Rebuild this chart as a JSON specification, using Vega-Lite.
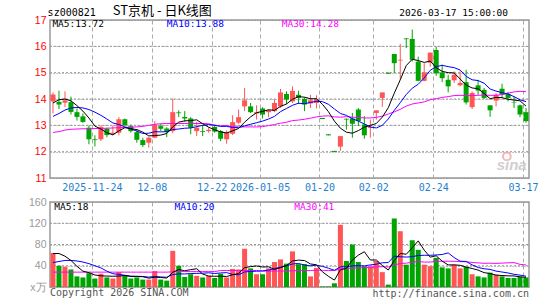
{
"$schema": "https://vega.github.io/schema/vega-lite/v6.json",
"background": "#ffffff",
"padding": {"left": 27, "top": 3, "right": 5, "bottom": 0},
"spacing": 24,
"bounds": "flush",
"config": {
  "view": {"stroke": "#999999", "strokeWidth": 1.5},
  "axis": {"domain": false, "ticks": false, "labelOverlap": false, "labelFont": "Liberation Sans", "labelFontSize": 10.5, "gridColor": "#aaaaaa", "gridWidth": 1, "gridOpacity": 1}
},
"datasets": {"k": [
{"i":0,"o":13.91,"h":14.25,"l":13.45,"c":14.17,"m5":13.85,"m10":13.34,"m30":12.73,"v":64,"vm5":63,"vm10":46,"vm30":28},
{"i":1,"o":13.89,"h":14.32,"l":13.62,"c":13.79,"m5":13.97,"m10":13.45,"m30":12.76,"v":40,"vm5":63,"vm10":48,"vm30":28},
{"i":2,"o":13.86,"h":14.29,"l":13.69,"c":13.95,"m5":14.0,"m10":13.58,"m30":12.82,"v":38,"vm5":58,"vm10":50,"vm30":28},
{"i":3,"o":13.88,"h":14.09,"l":13.41,"c":13.51,"m5":13.93,"m10":13.66,"m30":12.85,"v":33,"vm5":50,"vm10":50,"vm30":28},
{"i":4,"o":13.5,"h":13.64,"l":13.18,"c":13.32,"m5":13.75,"m10":13.68,"m30":12.86,"v":20,"vm5":39,"vm10":49,"vm30":28},
{"i":5,"o":13.34,"h":13.45,"l":13.09,"c":13.13,"m5":13.54,"m10":13.66,"m30":12.87,"v":18,"vm5":29.8,"vm10":47,"vm30":28},
{"i":6,"o":12.91,"h":13.0,"l":12.28,"c":12.47,"m5":13.28,"m10":13.6,"m30":12.87,"v":26,"vm5":27,"vm10":44,"vm30":28},
{"i":7,"o":12.47,"h":12.62,"l":12.2,"c":12.44,"m5":12.97,"m10":13.5,"m30":12.88,"v":16,"vm5":22.6,"vm10":40,"vm30":28},
{"i":8,"o":12.47,"h":13.0,"l":12.4,"c":12.94,"m5":12.86,"m10":13.38,"m30":12.88,"v":25,"vm5":21,"vm10":36,"vm30":28},
{"i":9,"o":12.87,"h":12.91,"l":12.55,"c":12.63,"m5":12.72,"m10":13.24,"m30":12.89,"v":18,"vm5":20.6,"vm10":29.8,"vm30":28},
{"i":10,"o":12.66,"h":13.0,"l":12.62,"c":12.72,"m5":12.64,"m10":13.09,"m30":12.9,"v":16,"vm5":20.2,"vm10":25,"vm30":28},
{"i":11,"o":12.72,"h":13.31,"l":12.62,"c":13.23,"m5":12.79,"m10":13.03,"m30":12.91,"v":28,"vm5":20.6,"vm10":23.8,"vm30":28},
{"i":12,"o":13.23,"h":13.26,"l":12.97,"c":13.01,"m5":12.91,"m10":12.94,"m30":12.92,"v":21,"vm5":21.6,"vm10":22.1,"vm30":28},
{"i":13,"o":12.97,"h":13.03,"l":12.72,"c":12.78,"m5":12.87,"m10":12.87,"m30":12.93,"v":16,"vm5":19.8,"vm10":20.4,"vm30":28},
{"i":14,"o":12.74,"h":12.85,"l":12.34,"c":12.45,"m5":12.84,"m10":12.78,"m30":12.94,"v":18,"vm5":19.8,"vm10":20.2,"vm30":28},
{"i":15,"o":12.44,"h":12.53,"l":12.18,"c":12.25,"m5":12.74,"m10":12.69,"m30":12.96,"v":14,"vm5":19.4,"vm10":19.8,"vm30":28},
{"i":16,"o":12.34,"h":12.57,"l":12.15,"c":12.53,"m5":12.6,"m10":12.7,"m30":13.0,"v":14,"vm5":16.6,"vm10":18.6,"vm30":28},
{"i":17,"o":12.53,"h":13.16,"l":12.51,"c":13.03,"m5":12.61,"m10":12.76,"m30":13.04,"v":30,"vm5":18.4,"vm10":20,"vm30":28},
{"i":18,"o":12.97,"h":13.06,"l":12.78,"c":12.87,"m5":12.63,"m10":12.75,"m30":13.06,"v":14,"vm5":18,"vm10":18.9,"vm30":28},
{"i":19,"o":12.88,"h":12.93,"l":12.55,"c":12.75,"m5":12.69,"m10":12.76,"m30":13.07,"v":12,"vm5":16.8,"vm10":18.3,"vm30":28},
{"i":20,"o":12.78,"h":14.02,"l":12.7,"c":13.5,"m5":12.94,"m10":12.84,"m30":13.07,"v":68,"vm5":27.6,"vm10":23.5,"vm30":28.5},
{"i":21,"o":13.49,"h":13.57,"l":13.32,"c":13.46,"m5":13.12,"m10":12.86,"m30":13.07,"v":40,"vm5":32.8,"vm10":24.7,"vm30":29},
{"i":22,"o":13.32,"h":13.54,"l":13.13,"c":13.26,"m5":13.17,"m10":12.89,"m30":13.07,"v":19,"vm5":30.6,"vm10":24.5,"vm30":29},
{"i":23,"o":13.26,"h":13.31,"l":12.66,"c":12.91,"m5":13.18,"m10":12.9,"m30":13.07,"v":24,"vm5":32.6,"vm10":25.3,"vm30":29},
{"i":24,"o":12.78,"h":13.13,"l":12.59,"c":12.91,"m5":13.21,"m10":12.95,"m30":13.07,"v":21,"vm5":34.4,"vm10":25.6,"vm30":29},
{"i":25,"o":12.78,"h":13.0,"l":12.59,"c":12.75,"m5":13.06,"m10":13.0,"m30":13.07,"v":18,"vm5":24.4,"vm10":26,"vm30":29},
{"i":26,"o":12.78,"h":12.93,"l":12.72,"c":12.83,"m5":12.93,"m10":13.03,"m30":13.06,"v":21,"vm5":20.6,"vm10":26.7,"vm30":29},
{"i":27,"o":12.94,"h":12.99,"l":12.72,"c":12.76,"m5":12.83,"m10":13.0,"m30":13.01,"v":17,"vm5":20.2,"vm10":25.4,"vm30":29},
{"i":28,"o":12.78,"h":12.82,"l":12.4,"c":12.49,"m5":12.75,"m10":12.96,"m30":12.98,"v":25,"vm5":20.4,"vm10":26.5,"vm30":31},
{"i":29,"o":12.47,"h":12.81,"l":12.3,"c":12.74,"m5":12.71,"m10":12.96,"m30":12.99,"v":18,"vm5":19.8,"vm10":27.1,"vm30":31},
{"i":30,"o":12.68,"h":13.38,"l":12.63,"c":13.12,"m5":12.79,"m10":12.92,"m30":12.95,"v":34,"vm5":23,"vm10":23.7,"vm30":31},
{"i":31,"o":13.1,"h":13.6,"l":13.06,"c":13.31,"m5":12.88,"m10":12.91,"m30":12.94,"v":33,"vm5":25.4,"vm10":23,"vm30":31},
{"i":32,"o":13.72,"h":14.42,"l":13.54,"c":13.95,"m5":13.12,"m10":12.98,"m30":12.94,"v":72,"vm5":36.4,"vm10":28.3,"vm30":31},
{"i":33,"o":13.72,"h":13.85,"l":13.47,"c":13.5,"m5":13.32,"m10":13.04,"m30":12.94,"v":35,"vm5":38.4,"vm10":29.4,"vm30":31},
{"i":34,"o":13.45,"h":13.76,"l":13.22,"c":13.5,"m5":13.48,"m10":13.1,"m30":12.94,"v":24,"vm5":39.6,"vm10":29.7,"vm30":31},
{"i":35,"o":13.64,"h":13.69,"l":13.26,"c":13.41,"m5":13.53,"m10":13.16,"m30":12.95,"v":24,"vm5":37.6,"vm10":30.3,"vm30":30},
{"i":36,"o":13.5,"h":13.6,"l":13.31,"c":13.57,"m5":13.59,"m10":13.24,"m30":12.99,"v":35,"vm5":38,"vm10":31.7,"vm30":30},
{"i":37,"o":13.54,"h":13.98,"l":13.5,"c":13.85,"m5":13.57,"m10":13.34,"m30":13.03,"v":47,"vm5":33,"vm10":34.7,"vm30":30},
{"i":38,"o":13.72,"h":14.38,"l":13.66,"c":14.25,"m5":13.72,"m10":13.52,"m30":13.08,"v":52,"vm5":36.4,"vm10":37.4,"vm30":30},
{"i":39,"o":14.19,"h":14.29,"l":13.81,"c":13.98,"m5":13.81,"m10":13.64,"m30":13.12,"v":44,"vm5":40.4,"vm10":40,"vm30":30},
{"i":40,"o":13.91,"h":14.48,"l":13.85,"c":14.31,"m5":13.99,"m10":13.76,"m30":13.18,"v":67,"vm5":49,"vm10":43.3,"vm30":30.5},
{"i":41,"o":14.16,"h":14.31,"l":13.81,"c":14.04,"m5":14.09,"m10":13.84,"m30":13.2,"v":43,"vm5":50.6,"vm10":44.3,"vm30":31},
{"i":42,"o":14.0,"h":14.06,"l":13.54,"c":13.79,"m5":14.07,"m10":13.82,"m30":13.23,"v":43,"vm5":49.8,"vm10":41.4,"vm30":31},
{"i":43,"o":13.83,"h":14.16,"l":13.66,"c":13.95,"m5":14.01,"m10":13.87,"m30":13.27,"v":20,"vm5":43.4,"vm10":39.9,"vm30":31},
{"i":44,"o":13.85,"h":14.14,"l":13.64,"c":13.98,"m5":14.01,"m10":13.91,"m30":13.32,"v":36,"vm5":41.8,"vm10":41.1,"vm30":31.5},
{"i":45,"o":13.28,"h":13.28,"l":13.24,"c":13.24,"m5":13.8,"m10":13.9,"m30":13.35,"v":1,"vm5":28.6,"vm10":38.8,"vm30":31.5},
{"i":46,"o":12.66,"h":12.66,"l":12.62,"c":12.62,"m5":13.52,"m10":13.8,"m30":13.36,"v":1,"vm5":20.2,"vm10":35.4,"vm30":31},
{"i":47,"o":12.03,"h":12.03,"l":11.99,"c":11.99,"m5":13.16,"m10":13.62,"m30":13.32,"v":7,"vm5":13,"vm10":31.4,"vm30":31},
{"i":48,"o":12.19,"h":12.59,"l":12.03,"c":12.59,"m5":12.89,"m10":13.45,"m30":13.31,"v":117,"vm5":32.4,"vm10":37.9,"vm30":34},
{"i":49,"o":13.25,"h":13.26,"l":12.84,"c":13.22,"m5":12.74,"m10":13.38,"m30":13.33,"v":49,"vm5":35,"vm10":38.4,"vm30":35.2},
{"i":50,"o":13.26,"h":13.47,"l":12.53,"c":13.06,"m5":12.7,"m10":13.25,"m30":13.31,"v":80,"vm5":50.8,"vm10":39.7,"vm30":35.6},
{"i":51,"o":13.6,"h":13.66,"l":12.97,"c":13.16,"m5":12.8,"m10":13.16,"m30":13.3,"v":47,"vm5":60,"vm10":40.1,"vm30":35.8},
{"i":52,"o":13.03,"h":13.35,"l":12.49,"c":12.62,"m5":12.93,"m10":13.05,"m30":13.28,"v":39,"vm5":66.4,"vm10":39.7,"vm30":36.5},
{"i":53,"o":12.9,"h":13.22,"l":12.53,"c":12.94,"m5":13.0,"m10":12.94,"m30":13.28,"v":39,"vm5":50.8,"vm10":41.6,"vm30":37},
{"i":54,"o":13.47,"h":13.57,"l":13.22,"c":13.57,"m5":13.07,"m10":12.9,"m30":13.3,"v":49,"vm5":50.8,"vm10":42.9,"vm30":37.9},
{"i":55,"o":14.04,"h":14.25,"l":13.7,"c":14.25,"m5":13.31,"m10":13.0,"m30":13.35,"v":28,"vm5":40.4,"vm10":45.6,"vm30":38.2},
{"i":56,"o":15.0,"h":15.0,"l":14.96,"c":14.96,"m5":13.67,"m10":13.24,"m30":13.43,"v":4.5,"vm5":31.9,"vm10":46,"vm30":37.7},
{"i":57,"o":15.71,"h":15.71,"l":14.98,"c":15.36,"m5":14.22,"m10":13.57,"m30":13.51,"v":129,"vm5":49.9,"vm10":58.2,"vm30":41.4},
{"i":58,"o":15.46,"h":16.09,"l":14.73,"c":15.49,"m5":14.73,"m10":13.86,"m30":13.61,"v":105,"vm5":63.1,"vm10":57,"vm30":44.1},
{"i":59,"o":16.3,"h":16.31,"l":15.93,"c":16.27,"m5":15.27,"m10":14.17,"m30":13.73,"v":42,"vm5":61.7,"vm10":56.3,"vm30":44.9},
{"i":60,"o":16.28,"h":16.64,"l":15.42,"c":15.49,"m5":15.51,"m10":14.41,"m30":13.81,"v":88,"vm5":73.7,"vm10":57.1,"vm30":46.7},
{"i":61,"o":15.42,"h":15.61,"l":14.67,"c":14.69,"m5":15.46,"m10":14.56,"m30":13.85,"v":70,"vm5":86.8,"vm10":59.4,"vm30":47.9},
{"i":62,"o":14.69,"h":15.36,"l":14.67,"c":15.01,"m5":15.39,"m10":14.8,"m30":13.89,"v":42,"vm5":69.4,"vm10":59.7,"vm30":46.9},
{"i":63,"o":15.38,"h":15.76,"l":15.23,"c":15.76,"m5":15.44,"m10":15.09,"m30":13.97,"v":39,"vm5":56.2,"vm10":59.7,"vm30":47},
{"i":64,"o":15.86,"h":15.99,"l":14.88,"c":14.98,"m5":15.19,"m10":15.23,"m30":14.01,"v":55,"vm5":58.8,"vm10":60.3,"vm30":48.1},
{"i":65,"o":15.01,"h":15.3,"l":14.64,"c":14.79,"m5":15.05,"m10":15.28,"m30":14.06,"v":37,"vm5":48.6,"vm10":61.2,"vm30":48.5},
{"i":66,"o":14.73,"h":14.92,"l":14.25,"c":14.48,"m5":15.0,"m10":15.23,"m30":14.09,"v":35,"vm5":41.6,"vm10":64.2,"vm30":48.5},
{"i":67,"o":14.71,"h":15.05,"l":14.61,"c":14.92,"m5":14.99,"m10":15.19,"m30":14.13,"v":42,"vm5":41.6,"vm10":55.5,"vm30":48.4},
{"i":68,"o":14.52,"h":15.05,"l":14.48,"c":14.61,"m5":14.76,"m10":15.1,"m30":14.14,"v":35,"vm5":40.8,"vm10":48.5,"vm30":47.8},
{"i":69,"o":14.64,"h":15.11,"l":13.79,"c":13.87,"m5":14.53,"m10":14.86,"m30":14.13,"v":38,"vm5":37.4,"vm10":48.1,"vm30":47.6},
{"i":70,"o":13.69,"h":14.29,"l":13.62,"c":14.23,"m5":14.42,"m10":14.73,"m30":14.13,"v":24,"vm5":34.8,"vm10":41.7,"vm30":46.2},
{"i":71,"o":14.52,"h":14.73,"l":14.16,"c":14.32,"m5":14.39,"m10":14.7,"m30":14.14,"v":20,"vm5":31.8,"vm10":36.7,"vm30":45.4},
{"i":72,"o":14.35,"h":14.42,"l":14.0,"c":14.04,"m5":14.21,"m10":14.6,"m30":14.15,"v":18,"vm5":27,"vm10":34.3,"vm30":44.6},
{"i":73,"o":13.76,"h":13.76,"l":13.32,"c":13.57,"m5":14.01,"m10":14.38,"m30":14.14,"v":27,"vm5":25.4,"vm10":33.1,"vm30":44.8},
{"i":74,"o":13.94,"h":14.23,"l":13.72,"c":14.16,"m5":14.06,"m10":14.3,"m30":14.14,"v":23,"vm5":22.4,"vm10":29.9,"vm30":44.4},
{"i":75,"o":14.39,"h":14.58,"l":14.04,"c":14.16,"m5":14.05,"m10":14.24,"m30":14.17,"v":20,"vm5":21.6,"vm10":28.2,"vm30":45},
{"i":76,"o":14.19,"h":14.27,"l":13.91,"c":14.04,"m5":13.99,"m10":14.19,"m30":14.22,"v":17,"vm5":21,"vm10":26.4,"vm30":45.5},
{"i":77,"o":13.89,"h":14.1,"l":13.66,"c":13.87,"m5":13.96,"m10":14.09,"m30":14.27,"v":17,"vm5":20.8,"vm10":23.9,"vm30":45.9},
{"i":78,"o":13.76,"h":13.79,"l":13.31,"c":13.41,"m5":13.93,"m10":13.97,"m30":14.29,"v":19,"vm5":19.2,"vm10":22.3,"vm30":42.6},
{"i":79,"o":13.5,"h":13.66,"l":13.1,"c":13.16,"m5":13.73,"m10":13.9,"m30":14.28,"v":18,"vm5":18.2,"vm10":20.3,"vm30":41.5}
]},
"vconcat": [
{
  "width": 479, "height": 158,
  "data": {"name": "k"},
  "encoding": {
    "x": {"field": "i", "type": "quantitative", "title": null,
      "scale": {"domain": [-0.5, 79.5], "nice": false, "zero": false, "padding": 0},
      "axis": {"values": [6.5, 16.5, 26.5, 34.5, 44.5, 53.5, 63.5, 78.5],
        "labelExpr": "datum.value < 10 ? '2025-11-24' : datum.value < 20 ? '12-08' : datum.value < 30 ? '12-22' : datum.value < 40 ? '2026-01-05' : datum.value < 50 ? '01-20' : datum.value < 60 ? '02-02' : datum.value < 70 ? '02-24' : '03-17'",
        "labelFont": "DejaVu Sans Mono", "labelFontSize": 10, "labelColor": "#1e80d0", "labelPadding": 4,
        "labelFlush": false, "labelOverlap": false, "grid": true, "gridDash": [4, 3], "gridColor": "#aaaaaa"}}
  },
  "layer": [
    {"transform": [{"filter": "datum.i == 0"}], "mark": {"type": "rule", "strokeWidth": 1, "strokeDash": [2, 2], "color": "#999999"},
     "encoding": {"y": {"datum": 12, "type": "quantitative", "title": null, "scale": {"domain": [11, 17], "nice": false, "zero": false},
         "axis": {"values": [11, 12, 13, 14, 15, 16, 17], "labelColor": "#ff0000", "labelPadding": 4, "labelOverlap": false, "grid": true, "gridDash": [1, 2], "gridColor": "#8a8a8a"}}, "x": {"value": 0}, "x2": {"value": 479}}},
    {"transform": [{"filter": "datum.i == 0"}], "mark": {"type": "rule", "strokeWidth": 1, "strokeDash": [2, 2], "color": "#999999"},
     "encoding": {"y": {"datum": 13, "type": "quantitative", "title": null, "scale": {"domain": [11, 17], "nice": false, "zero": false},
         "axis": {"values": [11, 12, 13, 14, 15, 16, 17], "labelColor": "#ff0000", "labelPadding": 4, "labelOverlap": false, "grid": true, "gridDash": [1, 2], "gridColor": "#8a8a8a"}}, "x": {"value": 0}, "x2": {"value": 479}}},
    {"transform": [{"filter": "datum.i == 0"}], "mark": {"type": "rule", "strokeWidth": 1, "strokeDash": [2, 2], "color": "#999999"},
     "encoding": {"y": {"datum": 14, "type": "quantitative", "title": null, "scale": {"domain": [11, 17], "nice": false, "zero": false},
         "axis": {"values": [11, 12, 13, 14, 15, 16, 17], "labelColor": "#ff0000", "labelPadding": 4, "labelOverlap": false, "grid": true, "gridDash": [1, 2], "gridColor": "#8a8a8a"}}, "x": {"value": 0}, "x2": {"value": 479}}},
    {"transform": [{"filter": "datum.i == 0"}], "mark": {"type": "rule", "strokeWidth": 1, "strokeDash": [2, 2], "color": "#999999"},
     "encoding": {"y": {"datum": 15, "type": "quantitative", "title": null, "scale": {"domain": [11, 17], "nice": false, "zero": false},
         "axis": {"values": [11, 12, 13, 14, 15, 16, 17], "labelColor": "#ff0000", "labelPadding": 4, "labelOverlap": false, "grid": true, "gridDash": [1, 2], "gridColor": "#8a8a8a"}}, "x": {"value": 0}, "x2": {"value": 479}}},
    {"transform": [{"filter": "datum.i == 0"}], "mark": {"type": "rule", "strokeWidth": 1, "strokeDash": [2, 2], "color": "#999999"},
     "encoding": {"y": {"datum": 16, "type": "quantitative", "title": null, "scale": {"domain": [11, 17], "nice": false, "zero": false},
         "axis": {"values": [11, 12, 13, 14, 15, 16, 17], "labelColor": "#ff0000", "labelPadding": 4, "labelOverlap": false, "grid": true, "gridDash": [1, 2], "gridColor": "#8a8a8a"}}, "x": {"value": 0}, "x2": {"value": 479}}},
    {"mark": {"type": "rule", "strokeWidth": 1},
     "encoding": {
       "y": {"field": "l", "type": "quantitative", "title": null, "scale": {"domain": [11, 17], "nice": false, "zero": false},
         "axis": {"values": [11, 12, 13, 14, 15, 16, 17], "labelColor": "#ff0000", "labelPadding": 4, "labelOverlap": false, "grid": true, "gridDash": [1, 2], "gridColor": "#8a8a8a"}},
       "y2": {"field": "h"},
       "color": {"condition": {"test": "datum.c >= datum.o", "value": "#ff5555"}, "value": "#00a400"}}},
    {"mark": {"type": "bar", "size": 5},
     "encoding": {
       "y": {"field": "o", "type": "quantitative", "title": null, "scale": {"domain": [11, 17], "nice": false, "zero": false},
         "axis": {"values": [11, 12, 13, 14, 15, 16, 17], "labelColor": "#ff0000", "labelPadding": 4, "labelOverlap": false, "grid": true, "gridDash": [1, 2], "gridColor": "#8a8a8a"}},
       "y2": {"field": "c"},
       "color": {"condition": {"test": "datum.c >= datum.o", "value": "#ff5555"}, "value": "#00a400"}}},
    {"mark": {"type": "line", "strokeWidth": 1, "color": "#ff00ff"},
     "encoding": {"y": {"field": "m30", "type": "quantitative", "title": null, "scale": {"domain": [11, 17], "nice": false, "zero": false},
         "axis": {"values": [11, 12, 13, 14, 15, 16, 17], "labelColor": "#ff0000", "labelPadding": 4, "labelOverlap": false, "grid": true, "gridDash": [1, 2], "gridColor": "#8a8a8a"}}}},
    {"mark": {"type": "line", "strokeWidth": 1, "color": "#0000ff"},
     "encoding": {"y": {"field": "m10", "type": "quantitative", "title": null, "scale": {"domain": [11, 17], "nice": false, "zero": false},
         "axis": {"values": [11, 12, 13, 14, 15, 16, 17], "labelColor": "#ff0000", "labelPadding": 4, "labelOverlap": false, "grid": true, "gridDash": [1, 2], "gridColor": "#8a8a8a"}}}},
    {"mark": {"type": "line", "strokeWidth": 1, "color": "#000000"},
     "encoding": {"y": {"field": "m5", "type": "quantitative", "title": null, "scale": {"domain": [11, 17], "nice": false, "zero": false},
         "axis": {"values": [11, 12, 13, 14, 15, 16, 17], "labelColor": "#ff0000", "labelPadding": 4, "labelOverlap": false, "grid": true, "gridDash": [1, 2], "gridColor": "#8a8a8a"}}}},
    {"transform": [{"filter": "datum.i == 0"}],
     "mark": {"type": "text", "align": "left", "baseline": "middle", "font": "DejaVu Sans Mono", "fontSize": 10, "color": "#000000", "clip": false},
     "encoding": {"text": {"value": "sz000821"}, "x": {"datum": -0.9, "type": "quantitative", "title": null},
                  "y": {"datum": 17.28, "type": "quantitative", "title": null, "scale": {"domain": [11, 17], "nice": false, "zero": false},
         "axis": {"values": [11, 12, 13, 14, 15, 16, 17], "labelColor": "#ff0000", "labelPadding": 4, "labelOverlap": false, "grid": true, "gridDash": [1, 2], "gridColor": "#8a8a8a"}}}},
    {"transform": [{"filter": "datum.i == 0"}],
     "mark": {"type": "text", "align": "left", "baseline": "middle", "font": "Noto Sans CJK SC", "fontSize": 13, "color": "#000000", "clip": false},
     "encoding": {"text": {"value": "ST京机 - 日K线图"}, "x": {"datum": 10, "type": "quantitative", "title": null},
                  "y": {"datum": 17.36, "type": "quantitative", "title": null, "scale": {"domain": [11, 17], "nice": false, "zero": false},
         "axis": {"values": [11, 12, 13, 14, 15, 16, 17], "labelColor": "#ff0000", "labelPadding": 4, "labelOverlap": false, "grid": true, "gridDash": [1, 2], "gridColor": "#8a8a8a"}}}},
    {"transform": [{"filter": "datum.i == 0"}],
     "mark": {"type": "text", "align": "right", "baseline": "middle", "font": "DejaVu Sans Mono", "fontSize": 9.5, "color": "#000000", "clip": false},
     "encoding": {"text": {"value": "2026-03-17 15:00:00"}, "x": {"datum": 76.0, "type": "quantitative", "title": null},
                  "y": {"datum": 17.28, "type": "quantitative", "title": null, "scale": {"domain": [11, 17], "nice": false, "zero": false},
         "axis": {"values": [11, 12, 13, 14, 15, 16, 17], "labelColor": "#ff0000", "labelPadding": 4, "labelOverlap": false, "grid": true, "gridDash": [1, 2], "gridColor": "#8a8a8a"}}}},
    {"transform": [{"filter": "datum.i == 0"}],
     "mark": {"type": "text", "align": "left", "baseline": "middle", "font": "DejaVu Sans Mono", "fontSize": 9.5, "color": "#000000"},
     "encoding": {"text": {"value": "MA5:13.72"}, "x": {"datum": -0.1, "type": "quantitative", "title": null},
                  "y": {"datum": 16.85, "type": "quantitative", "title": null, "scale": {"domain": [11, 17], "nice": false, "zero": false},
         "axis": {"values": [11, 12, 13, 14, 15, 16, 17], "labelColor": "#ff0000", "labelPadding": 4, "labelOverlap": false, "grid": true, "gridDash": [1, 2], "gridColor": "#8a8a8a"}}}},
    {"transform": [{"filter": "datum.i == 0"}],
     "mark": {"type": "text", "align": "left", "baseline": "middle", "font": "DejaVu Sans Mono", "fontSize": 9.5, "color": "#0000ff"},
     "encoding": {"text": {"value": "MA10:13.88"}, "x": {"datum": 19.0, "type": "quantitative", "title": null},
                  "y": {"datum": 16.85, "type": "quantitative", "title": null, "scale": {"domain": [11, 17], "nice": false, "zero": false},
         "axis": {"values": [11, 12, 13, 14, 15, 16, 17], "labelColor": "#ff0000", "labelPadding": 4, "labelOverlap": false, "grid": true, "gridDash": [1, 2], "gridColor": "#8a8a8a"}}}},
    {"transform": [{"filter": "datum.i == 0"}],
     "mark": {"type": "text", "align": "left", "baseline": "middle", "font": "DejaVu Sans Mono", "fontSize": 9.5, "color": "#ff00ff"},
     "encoding": {"text": {"value": "MA30:14.28"}, "x": {"datum": 38.2, "type": "quantitative", "title": null},
                  "y": {"datum": 16.85, "type": "quantitative", "title": null, "scale": {"domain": [11, 17], "nice": false, "zero": false},
         "axis": {"values": [11, 12, 13, 14, 15, 16, 17], "labelColor": "#ff0000", "labelPadding": 4, "labelOverlap": false, "grid": true, "gridDash": [1, 2], "gridColor": "#8a8a8a"}}}},
    {"transform": [{"filter": "datum.i == 0"}],
     "mark": {"type": "point", "filled": false, "size": 60, "strokeWidth": 2, "color": "#f2a6a6", "opacity": 0.8},
     "encoding": {"x": {"datum": 75.8, "type": "quantitative", "title": null},
                  "y": {"datum": 11.82, "type": "quantitative", "title": null, "scale": {"domain": [11, 17], "nice": false, "zero": false},
         "axis": {"values": [11, 12, 13, 14, 15, 16, 17], "labelColor": "#ff0000", "labelPadding": 4, "labelOverlap": false, "grid": true, "gridDash": [1, 2], "gridColor": "#8a8a8a"}}}},
    {"transform": [{"filter": "datum.i == 0"}],
     "mark": {"type": "text", "align": "center", "baseline": "middle", "font": "Liberation Sans", "fontSize": 15, "fontStyle": "italic", "fontWeight": "bold", "color": "#cfcfcf"},
     "encoding": {"text": {"value": "sina"}, "x": {"datum": 76.6, "type": "quantitative", "title": null},
                  "y": {"datum": 11.5, "type": "quantitative", "title": null, "scale": {"domain": [11, 17], "nice": false, "zero": false},
         "axis": {"values": [11, 12, 13, 14, 15, 16, 17], "labelColor": "#ff0000", "labelPadding": 4, "labelOverlap": false, "grid": true, "gridDash": [1, 2], "gridColor": "#8a8a8a"}}}}
  ]
},
{
  "width": 479, "height": 85,
  "data": {"name": "k"},
  "encoding": {
    "x": {"field": "i", "type": "quantitative", "title": null,
      "scale": {"domain": [-0.5, 79.5], "nice": false, "zero": false, "padding": 0},
      "axis": {"values": [6.5, 16.5, 26.5, 34.5, 44.5, 53.5, 63.5, 78.5], "labels": false, "grid": true, "gridDash": [4, 3], "gridColor": "#aaaaaa"}}
  },
  "layer": [
    {"transform": [{"filter": "datum.i == 0"}], "mark": {"type": "rule", "strokeWidth": 1, "strokeDash": [2, 2], "color": "#999999"},
     "encoding": {"y": {"datum": 40, "type": "quantitative", "title": null, "scale": {"domain": [0, 160], "nice": false},
         "axis": {"values": [0, 40, 80, 120, 160], "labelColor": "#999999", "labelOverlap": false, "grid": true, "labelExpr": "datum.value == 0 ? 'x万' : datum.label", "labelPadding": 4, "gridDash": [1, 2], "gridColor": "#8a8a8a"}}, "x": {"value": 0}, "x2": {"value": 479}}},
    {"transform": [{"filter": "datum.i == 0"}], "mark": {"type": "rule", "strokeWidth": 1, "strokeDash": [2, 2], "color": "#999999"},
     "encoding": {"y": {"datum": 80, "type": "quantitative", "title": null, "scale": {"domain": [0, 160], "nice": false},
         "axis": {"values": [0, 40, 80, 120, 160], "labelColor": "#999999", "labelOverlap": false, "grid": true, "labelExpr": "datum.value == 0 ? 'x万' : datum.label", "labelPadding": 4, "gridDash": [1, 2], "gridColor": "#8a8a8a"}}, "x": {"value": 0}, "x2": {"value": 479}}},
    {"transform": [{"filter": "datum.i == 0"}], "mark": {"type": "rule", "strokeWidth": 1, "strokeDash": [2, 2], "color": "#999999"},
     "encoding": {"y": {"datum": 120, "type": "quantitative", "title": null, "scale": {"domain": [0, 160], "nice": false},
         "axis": {"values": [0, 40, 80, 120, 160], "labelColor": "#999999", "labelOverlap": false, "grid": true, "labelExpr": "datum.value == 0 ? 'x万' : datum.label", "labelPadding": 4, "gridDash": [1, 2], "gridColor": "#8a8a8a"}}, "x": {"value": 0}, "x2": {"value": 479}}},
    {"mark": {"type": "bar", "size": 5},
     "encoding": {
       "y": {"field": "v", "type": "quantitative", "title": null, "scale": {"domain": [0, 160], "nice": false},
         "axis": {"values": [0, 40, 80, 120, 160], "labelColor": "#999999", "labelOverlap": false, "grid": true, "labelExpr": "datum.value == 0 ? 'x万' : datum.label", "labelPadding": 4, "gridDash": [1, 2], "gridColor": "#8a8a8a"}},
       "color": {"condition": {"test": "datum.c >= datum.o", "value": "#ff5555"}, "value": "#00a400"}}},
    {"mark": {"type": "line", "strokeWidth": 1, "color": "#ff00ff"},
     "encoding": {"y": {"field": "vm30", "type": "quantitative", "title": null, "scale": {"domain": [0, 160], "nice": false},
         "axis": {"values": [0, 40, 80, 120, 160], "labelColor": "#999999", "labelOverlap": false, "grid": true, "labelExpr": "datum.value == 0 ? 'x万' : datum.label", "labelPadding": 4, "gridDash": [1, 2], "gridColor": "#8a8a8a"}}}},
    {"mark": {"type": "line", "strokeWidth": 1, "color": "#0000ff"},
     "encoding": {"y": {"field": "vm10", "type": "quantitative", "title": null, "scale": {"domain": [0, 160], "nice": false},
         "axis": {"values": [0, 40, 80, 120, 160], "labelColor": "#999999", "labelOverlap": false, "grid": true, "labelExpr": "datum.value == 0 ? 'x万' : datum.label", "labelPadding": 4, "gridDash": [1, 2], "gridColor": "#8a8a8a"}}}},
    {"mark": {"type": "line", "strokeWidth": 1, "color": "#000000"},
     "encoding": {"y": {"field": "vm5", "type": "quantitative", "title": null, "scale": {"domain": [0, 160], "nice": false},
         "axis": {"values": [0, 40, 80, 120, 160], "labelColor": "#999999", "labelOverlap": false, "grid": true, "labelExpr": "datum.value == 0 ? 'x万' : datum.label", "labelPadding": 4, "gridDash": [1, 2], "gridColor": "#8a8a8a"}}}},
    {"transform": [{"filter": "datum.i == 0"}],
     "mark": {"type": "text", "align": "left", "baseline": "middle", "font": "DejaVu Sans Mono", "fontSize": 9.5, "color": "#000000"},
     "encoding": {"text": {"value": "MA5:18"}, "x": {"datum": 0.2, "type": "quantitative", "title": null},
                  "y": {"datum": 151, "type": "quantitative", "title": null, "scale": {"domain": [0, 160], "nice": false},
         "axis": {"values": [0, 40, 80, 120, 160], "labelColor": "#999999", "labelOverlap": false, "grid": true, "labelExpr": "datum.value == 0 ? 'x万' : datum.label", "labelPadding": 4, "gridDash": [1, 2], "gridColor": "#8a8a8a"}}}},
    {"transform": [{"filter": "datum.i == 0"}],
     "mark": {"type": "text", "align": "left", "baseline": "middle", "font": "DejaVu Sans Mono", "fontSize": 9.5, "color": "#0000ff"},
     "encoding": {"text": {"value": "MA10:20"}, "x": {"datum": 20.3, "type": "quantitative", "title": null},
                  "y": {"datum": 151, "type": "quantitative", "title": null, "scale": {"domain": [0, 160], "nice": false},
         "axis": {"values": [0, 40, 80, 120, 160], "labelColor": "#999999", "labelOverlap": false, "grid": true, "labelExpr": "datum.value == 0 ? 'x万' : datum.label", "labelPadding": 4, "gridDash": [1, 2], "gridColor": "#8a8a8a"}}}},
    {"transform": [{"filter": "datum.i == 0"}],
     "mark": {"type": "text", "align": "left", "baseline": "middle", "font": "DejaVu Sans Mono", "fontSize": 9.5, "color": "#ff00ff"},
     "encoding": {"text": {"value": "MA30:41"}, "x": {"datum": 40.3, "type": "quantitative", "title": null},
                  "y": {"datum": 151, "type": "quantitative", "title": null, "scale": {"domain": [0, 160], "nice": false},
         "axis": {"values": [0, 40, 80, 120, 160], "labelColor": "#999999", "labelOverlap": false, "grid": true, "labelExpr": "datum.value == 0 ? 'x万' : datum.label", "labelPadding": 4, "gridDash": [1, 2], "gridColor": "#8a8a8a"}}}},
    {"transform": [{"filter": "datum.i == 0"}],
     "mark": {"type": "text", "align": "left", "baseline": "middle", "font": "DejaVu Sans Mono", "fontSize": 10, "color": "#555555", "clip": false},
     "encoding": {"text": {"value": "Copyright 2026 SINA.COM"}, "x": {"datum": -0.5, "type": "quantitative", "title": null},
                  "y": {"datum": -11.5, "type": "quantitative", "title": null, "scale": {"domain": [0, 160], "nice": false},
         "axis": {"values": [0, 40, 80, 120, 160], "labelColor": "#999999", "labelOverlap": false, "grid": true, "labelExpr": "datum.value == 0 ? 'x万' : datum.label", "labelPadding": 4, "gridDash": [1, 2], "gridColor": "#8a8a8a"}}}},
    {"transform": [{"filter": "datum.i == 0"}],
     "mark": {"type": "text", "align": "right", "baseline": "middle", "font": "DejaVu Sans Mono", "fontSize": 10, "color": "#555555", "clip": false},
     "encoding": {"text": {"value": "http://finance.sina.com.cn"}, "x": {"datum": 79.5, "type": "quantitative", "title": null},
                  "y": {"datum": -13, "type": "quantitative", "title": null, "scale": {"domain": [0, 160], "nice": false},
         "axis": {"values": [0, 40, 80, 120, 160], "labelColor": "#999999", "labelOverlap": false, "grid": true, "labelExpr": "datum.value == 0 ? 'x万' : datum.label", "labelPadding": 4, "gridDash": [1, 2], "gridColor": "#8a8a8a"}}}}
  ]
}
]
}
